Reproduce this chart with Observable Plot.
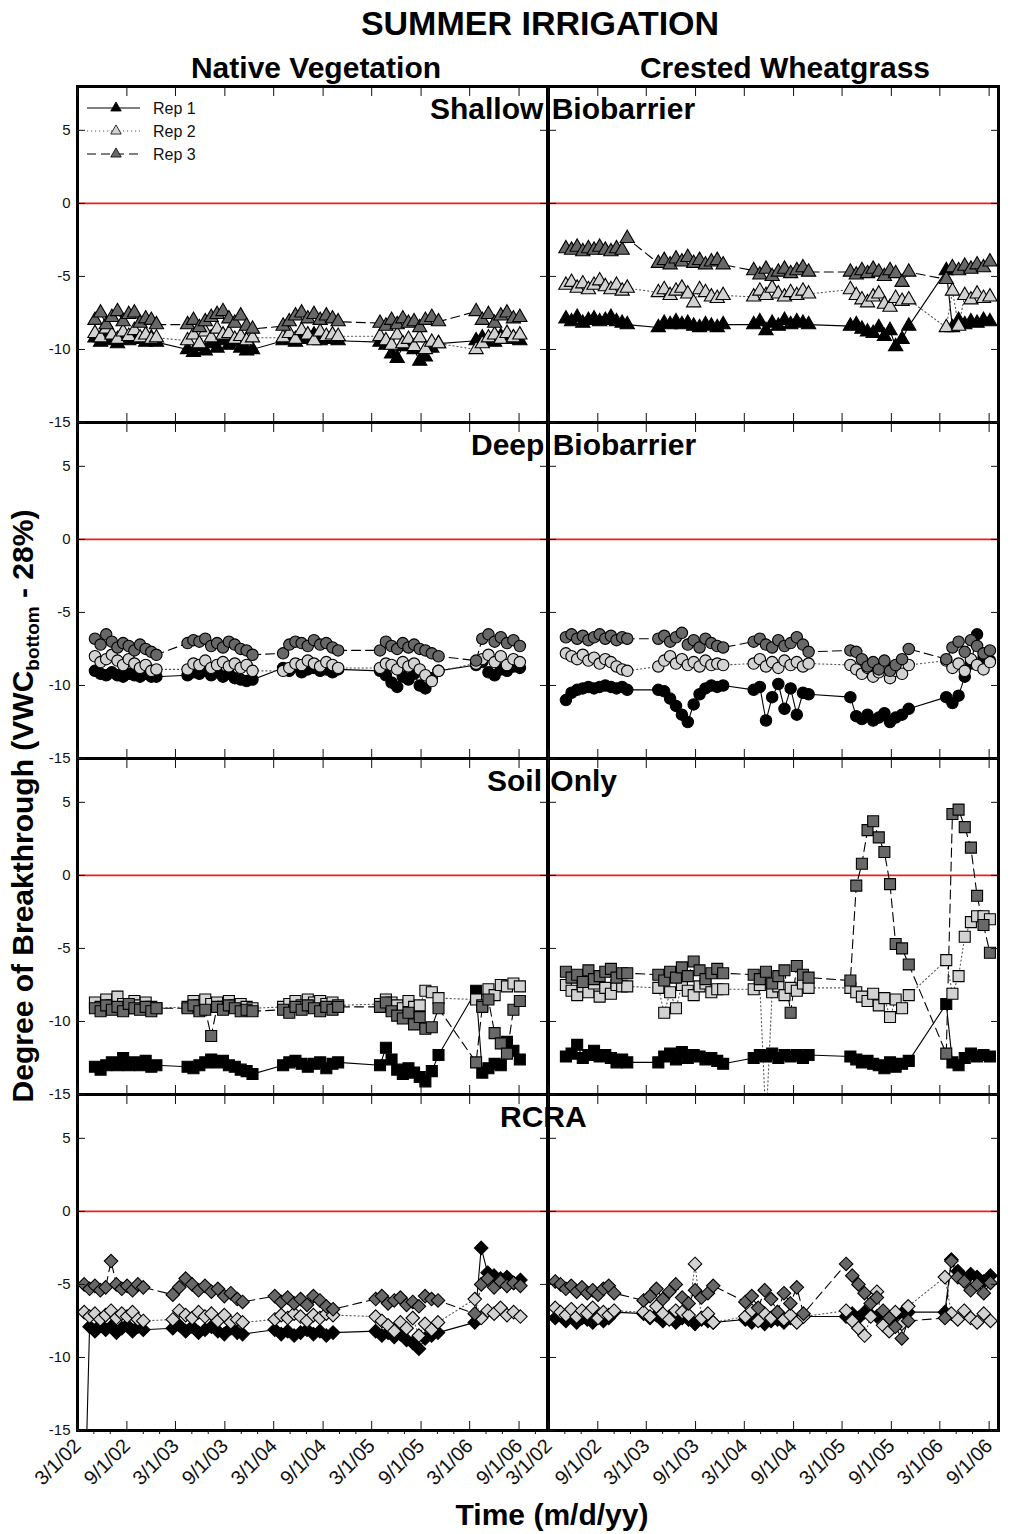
<!DOCTYPE html>
<html>
<head>
<meta charset="utf-8">
<script src="https://cdn.jsdelivr.net/npm/d3@7"></script>
<script src="https://cdn.jsdelivr.net/npm/@observablehq/plot@0.6"></script>
<style>
  body { margin: 0; background: #fff; }
  #fig { position: relative; width: 1010px; height: 1534px; background: #fff; overflow: hidden; }
  #fig > svg { position: absolute; }
</style>
</head>
<body>
<div id="fig"></div>
<script>
// Facet layout
const rows = ["Shallow Biobarrier", "Deep Biobarrier", "Soil Only", "RCRA"];
const columns = ["Native Vegetation", "Crested Wheatgrass"];
const reps = ["Rep 1", "Rep 2", "Rep 3"];

// Axis ticks
const yTicks = [5, 0, -5, -10, -15];
const tickDates = ["2002-03-01", "2002-09-01", "2003-03-01", "2003-09-01", "2004-03-01",
  "2004-09-01", "2005-03-01", "2005-09-01", "2006-03-01", "2006-09-01"];
const minorDates = ["2002-05-01", "2002-07-01", "2002-11-01", "2003-01-01", "2003-05-01",
  "2003-07-01", "2003-11-01", "2004-01-01", "2004-05-01", "2004-07-01", "2004-11-01",
  "2005-01-01", "2005-05-01", "2005-07-01", "2005-11-01", "2006-01-01", "2006-05-01",
  "2006-07-01", "2006-11-01"];

// Sampling dates, five irrigation seasons (12, 12, 10, 11, 8 readings)
const datesA = [
  "2002-05-05", "2002-05-26", "2002-06-16", "2002-07-07", "2002-07-28", "2002-08-18", "2002-09-08", "2002-09-29", "2002-10-20", "2002-11-10", "2002-12-01", "2002-12-20",
  "2003-04-15", "2003-05-07", "2003-05-29", "2003-06-20", "2003-07-12", "2003-08-03", "2003-08-25", "2003-09-16", "2003-10-08", "2003-10-30", "2003-11-21", "2003-12-13",
  "2004-04-05", "2004-04-28", "2004-05-21", "2004-06-13", "2004-07-06", "2004-07-29", "2004-08-21", "2004-09-13", "2004-10-06", "2004-10-27",
  "2005-04-01", "2005-04-23", "2005-05-14", "2005-06-04", "2005-06-25", "2005-07-16", "2005-08-06", "2005-08-27", "2005-09-17", "2005-10-11", "2005-11-05",
  "2006-03-25", "2006-04-17", "2006-05-10", "2006-06-02", "2006-06-25", "2006-07-18", "2006-08-11", "2006-09-04"];
// RCRA cells were read on a slightly earlier schedule
const datesB = [
  "2002-03-26", "2002-04-15", "2002-05-05", "2002-05-25", "2002-06-14", "2002-07-04", "2002-07-24", "2002-08-13", "2002-09-02", "2002-09-22", "2002-10-12", "2002-11-01",
  "2003-02-19", "2003-03-15", "2003-04-08", "2003-05-02", "2003-05-26", "2003-06-19", "2003-07-13", "2003-08-06", "2003-08-30", "2003-09-23", "2003-10-17", "2003-11-06",
  "2004-03-05", "2004-03-29", "2004-04-22", "2004-05-16", "2004-06-09", "2004-07-03", "2004-07-27", "2004-08-20", "2004-09-13", "2004-10-08",
  "2005-03-16", "2005-04-08", "2005-05-01", "2005-05-24", "2005-06-16", "2005-07-09", "2005-08-01", "2005-08-24", "2005-09-16", "2005-10-10", "2005-11-03",
  "2006-03-20", "2006-04-13", "2006-05-07", "2006-05-31", "2006-06-24", "2006-07-18", "2006-08-12", "2006-09-06"];

// Degree of breakthrough (VWC bottom - 28%), one array per cell and replicate
const shallowNativeRep1 = [
  -9.2, -9.5, -9.1, -9.4, -9.6, -9.2, -9.4, -9.1, -9.3, -9.5, -9.2, -9.5,
  -10.0, -10.2, -9.8, -10.1, -9.6, -9.9, -9.4, -9.7, -9.5, -9.9, -10.1, -10.0,
  -9.4, -9.2, -9.5, -9.1, -9.3, -9.0, -9.4, -9.2, -9.3, -9.4,
  -9.5, -9.7, -10.3, -10.6, -9.8, -9.5, -10.0, -10.8, -10.5, -9.9, -9.6,
  -9.4, -9.2, -9.3, -9.5, -9.1, -9.3, -9.2, -9.4];
const shallowNativeRep2 = [
  -8.9, -9.2, -8.6, -9.0, -9.3, -8.8, -9.1, -8.7, -9.2, -9.0, -9.3, -9.2,
  -9.4, -9.0, -9.6, -8.8, -9.2, -8.6, -9.0, -8.9, -9.3, -9.1, -9.4, -9.2,
  -9.2, -8.9, -9.3, -8.7, -9.0, -9.4, -8.8, -9.1, -9.0, -9.1,
  -9.1, -9.4, -9.7, -9.0, -9.6, -9.3, -9.8, -9.2, -10.0, -9.5, -9.6,
  -10.0, -9.6, -9.2, -9.0, -9.3, -8.9, -9.2, -9.0];
const shallowNativeRep3 = [
  -8.0, -7.5, -8.3, -7.8, -7.4, -8.1, -7.6, -7.5, -8.2, -7.9, -8.0, -8.3,
  -8.3, -8.0, -8.5, -8.1, -7.8, -7.6, -7.4, -7.9, -8.2, -7.7, -8.4, -8.6,
  -8.4, -8.1, -7.7, -7.5, -7.9, -7.6, -8.0, -7.7, -7.9, -8.1,
  -8.2, -8.4, -8.0, -8.3, -7.9, -8.2, -8.1, -8.5, -8.0, -7.8, -8.1,
  -7.4, -8.0, -7.6, -8.2, -7.7, -7.5, -7.9, -7.8];

const shallowCrestedRep1 = [
  -7.9, -8.1, -7.8, -8.2, -8.0, -7.9, -8.1, -8.0, -7.8, -8.1, -8.2, -8.3,
  -8.5, -8.2, -8.3, -8.1, -8.3, -8.2, -8.4, -8.5, -8.3, -8.4, -8.5, -8.3,
  -8.3, -8.1, -8.7, -8.2, -8.4, -8.0, -8.3, -8.1, -8.2, -8.3,
  -8.4, -8.3, -8.6, -8.8, -8.9, -8.5, -9.1, -8.7, -9.8, -9.3, -8.4,
  -4.6, -8.5, -8.0, -8.3, -8.1, -8.2, -8.0, -8.1];
const shallowCrestedRep2 = [
  -5.6, -5.4, -5.8, -5.5, -5.9, -5.6, -5.3, -5.7, -5.9, -5.6, -6.0, -5.8,
  -6.1, -5.9, -6.3, -6.0, -5.8, -6.2, -6.8, -5.9, -6.1, -6.4, -6.5, -6.3,
  -6.4, -6.0, -6.3, -5.8, -6.2, -6.4, -6.1, -6.3, -6.0, -6.2,
  -5.9, -6.3, -6.6, -6.8, -6.4, -6.2, -6.9, -7.1, -6.5, -6.7, -6.6,
  -8.5, -6.0, -8.4, -6.3, -6.6, -6.2, -6.5, -6.4];
const shallowCrestedRep3 = [
  -3.1, -3.2, -3.0, -3.3, -3.1, -3.2, -3.0, -3.2, -3.3, -3.1, -3.2, -2.4,
  -4.1, -3.9, -4.2, -3.8, -4.0, -3.7, -4.1, -3.9, -4.2, -4.0, -3.9, -4.2,
  -4.6, -4.9, -4.5, -5.0, -4.7, -4.5, -4.8, -4.6, -4.4, -4.7,
  -4.7, -4.9, -4.6, -4.8, -4.5, -4.7, -5.0, -4.6, -4.8, -5.4, -4.7,
  -5.2, -4.4, -4.6, -4.3, -4.5, -4.2, -4.4, -4.0];

const deepNativeRep1 = [
  -9.0, -9.2, -9.3, -9.1, -9.3, -9.4, -9.2, -9.3, -9.4, -9.2, -9.4, -9.4,
  -9.3, -9.1, -9.2, -9.0, -9.3, -9.1, -9.4, -9.2, -9.5, -9.6, -9.7, -9.6,
  -8.8, -9.0, -8.7, -9.1, -8.9, -8.8, -9.0, -8.9, -9.1, -8.9,
  -9.0, -9.3, -9.8, -10.1, -9.4, -9.6, -9.2, -10.0, -10.2, -9.5, -9.0,
  -8.6, -8.4, -9.1, -9.3, -8.9, -9.0, -8.7, -8.8];
const deepNativeRep2 = [
  -8.0, -8.4, -8.2, -7.9, -8.3, -8.6, -8.2, -8.5, -8.8, -8.6, -9.0, -8.9,
  -8.9, -8.5, -8.6, -8.3, -8.8, -8.6, -8.4, -8.7, -8.5, -8.8, -8.6, -9.0,
  -9.0, -8.8, -8.5, -8.6, -8.3, -8.5, -8.7, -8.4, -8.6, -8.8,
  -8.8, -8.5, -8.6, -8.9, -8.4, -8.7, -8.5, -8.9, -9.3, -9.7, -9.0,
  -8.5, -8.2, -7.9, -8.4, -8.0, -8.6, -8.2, -8.4];
const deepNativeRep3 = [
  -6.8, -7.2, -6.5, -7.0, -7.4, -7.1, -7.3, -7.6, -7.2, -7.5, -7.7, -7.9,
  -7.1, -6.9, -7.0, -6.8, -7.3, -7.1, -7.4, -7.0, -7.2, -7.5, -7.6, -7.9,
  -7.8, -7.2, -7.0, -7.1, -7.3, -6.9, -7.2, -7.1, -7.4, -7.6,
  -7.6, -7.0, -7.3, -7.5, -7.1, -7.4, -7.2, -7.5, -7.6, -7.8, -8.0,
  -8.3, -6.8, -6.5, -7.0, -6.7, -7.1, -6.9, -7.3];

const deepCrestedRep1 = [
  -11.0, -10.5, -10.3, -10.2, -10.1, -10.2, -10.1, -10.0, -10.1, -10.2, -10.1, -10.3,
  -10.3, -10.4, -10.9, -11.4, -12.0, -12.5, -11.3, -10.6, -10.2, -10.0, -10.1, -10.0,
  -10.3, -10.1, -12.4, -10.8, -9.9, -11.6, -10.2, -12.0, -10.5, -10.6,
  -10.8, -12.1, -12.3, -12.0, -12.4, -12.2, -11.9, -12.5, -12.2, -12.0, -11.6,
  -10.8, -11.2, -10.7, -9.4, -8.5, -6.5, -8.1, -8.3];
const deepCrestedRep2 = [
  -7.8, -8.0, -8.2, -7.9, -8.3, -8.1, -8.5, -8.2, -8.4, -8.7, -8.9, -9.0,
  -8.7, -8.3, -8.0, -8.5, -8.2, -8.6, -8.4, -8.7, -8.3, -8.6, -8.5, -8.6,
  -8.5, -8.2, -8.7, -8.4, -8.8, -8.3, -8.6, -8.4, -8.7, -8.5,
  -8.6, -8.9, -9.2, -8.8, -9.4, -9.1, -8.7, -9.5, -9.0, -9.2, -8.6,
  -8.3, -8.8, -8.5, -9.0, -8.2, -8.6, -8.9, -8.4];
const deepCrestedRep3 = [
  -6.7, -6.5, -6.8, -6.6, -6.9, -6.7, -6.5, -6.8, -6.6, -6.9, -6.7, -6.8,
  -6.8, -6.6, -7.0, -6.7, -6.4, -7.2, -6.9, -7.4, -6.8, -7.1, -7.3, -7.4,
  -7.0, -6.8, -7.2, -7.4, -6.9, -7.3, -7.1, -6.7, -7.2, -7.7,
  -7.6, -7.7, -8.2, -8.7, -8.4, -8.9, -8.3, -9.0, -8.6, -8.2, -7.5,
  -8.2, -7.4, -7.0, -7.7, -6.9, -7.3, -7.8, -7.6];

const soilNativeRep1 = [
  -13.1, -13.3, -13.0, -12.8, -13.0, -12.5, -13.0, -12.8, -13.0, -12.7, -13.1, -13.0,
  -13.1, -13.2, -13.0, -12.8, -12.6, -12.8, -12.7, -13.0, -13.1, -13.3, -13.4, -13.6,
  -13.0, -12.8, -12.7, -12.9, -13.1, -12.9, -12.8, -13.2, -12.9, -12.8,
  -13.0, -11.8, -12.6, -13.3, -13.6, -13.2, -13.5, -13.8, -14.1, -13.4, -12.3,
  -7.9, -13.5, -13.2, -12.9, -13.0, -11.4, -12.0, -12.6];
const soilNativeRep2 = [
  -8.7, -9.0, -8.5, -8.9, -8.3, -8.8, -9.1, -8.6, -8.9, -8.7, -9.0, -9.1,
  -9.0, -8.6, -8.9, -8.5, -8.8, -8.7, -9.0, -8.6, -8.9, -8.8, -9.0, -9.1,
  -9.0, -8.8, -8.6, -8.9, -8.5, -8.7, -8.6, -8.8, -8.7, -8.9,
  -8.8, -8.5, -8.7, -8.9, -9.1, -8.6, -9.0, -8.9, -7.9, -8.0, -8.4,
  -8.5, -8.9, -7.8, -8.2, -7.5, -7.6, -7.4, -7.6];
const soilNativeRep3 = [
  -9.1, -9.3, -8.9, -9.2, -9.0, -9.3, -8.8, -9.1, -9.2, -9.0, -9.3, -9.1,
  -9.1, -8.9, -9.3, -9.2, -11.0, -9.0, -9.2, -8.9, -9.1, -9.3, -9.2, -9.3,
  -9.2, -9.4, -9.0, -9.2, -8.9, -9.1, -9.3, -9.0, -9.2, -9.0,
  -9.0, -8.7, -9.3, -9.6, -9.8, -9.4, -10.2, -9.7, -10.5, -10.4, -9.1,
  -12.8, -9.0, -8.5, -10.8, -11.5, -12.2, -9.2, -8.6];

const soilCrestedRep1 = [
  -12.4, -12.2, -11.6, -12.5, -12.3, -12.0, -12.4, -12.3, -12.5, -12.8, -12.6, -12.8,
  -12.8, -12.4, -12.2, -12.6, -12.1, -12.5, -12.3, -12.4, -12.6, -12.5, -12.7, -12.9,
  -12.5, -12.3, -12.4, -12.2, -12.5, -12.3, -12.4, -12.3, -12.5, -12.3,
  -12.4, -12.6, -12.8, -12.7, -12.9, -13.0, -13.2, -12.8, -13.1, -12.9, -12.7,
  -8.8, -12.8, -13.0, -12.5, -12.2, -12.4, -12.3, -12.4];
const soilCrestedRep2 = [
  -7.5, -7.9, -8.2, -7.6, -8.0, -7.4, -8.3, -7.7, -8.1, -7.5, -7.6, -7.6,
  -7.7, -9.4, -8.0, -9.1, -7.5, -7.9, -8.2, -7.6, -7.4, -8.0, -7.8, -7.8,
  -7.8, -7.5, -17.0, -8.0, -7.6, -8.2, -7.7, -7.9, -7.4, -7.7,
  -7.7, -8.0, -8.3, -8.6, -8.1, -8.9, -8.4, -9.7, -8.5, -9.1, -8.2,
  -5.8, -8.1, -6.9, -4.2, -3.2, -2.8, -2.8, -3.0];
const soilCrestedRep3 = [
  -6.6, -7.0, -6.8, -7.3, -6.5, -7.1, -6.9, -6.6, -6.4, -7.0, -6.7, -6.7,
  -6.8, -7.2, -6.6, -7.0, -6.3, -6.9, -5.9, -6.5, -7.1, -6.7, -6.4, -6.7,
  -6.8, -7.1, -6.6, -7.4, -6.9, -6.5, -9.4, -6.2, -6.8, -7.0,
  -7.2, -0.7, 0.8, 3.1, 3.7, 2.6, 1.6, -0.6, -4.7, -5.0, -6.1,
  -12.2, 4.2, 4.5, 3.3, 1.9, -1.4, -3.4, -5.3];

const rcraNativeRep1 = [
  -22.0, -7.9, -8.2, -7.8, -8.1, -7.9, -8.3, -8.0, -7.8, -8.2, -7.9, -8.1,
  -8.0, -7.8, -8.2, -7.9, -8.3, -8.1, -7.9, -8.2, -8.4, -8.0, -8.3, -8.4,
  -8.1, -8.4, -8.2, -8.5, -8.3, -8.1, -8.4, -8.2, -8.5, -8.3,
  -8.2, -8.5, -8.3, -8.6, -8.4, -8.8, -9.0, -9.4, -8.7, -8.5, -8.3,
  -7.6, -2.5, -4.2, -4.4, -4.6, -4.5, -4.9, -4.7];
const rcraNativeRep2 = [
  -6.9, -7.2, -7.0, -7.4, -7.1, -6.8, -7.3, -7.0, -7.2, -6.9, -7.4, -7.5,
  -7.4, -6.8, -7.1, -7.3, -6.9, -7.2, -7.0, -7.5, -7.1, -7.6, -7.4, -7.6,
  -7.4, -7.1, -7.3, -7.0, -7.2, -7.5, -7.1, -7.3, -7.0, -7.1,
  -7.2, -7.5, -7.8, -8.2, -7.6, -8.0, -7.3, -8.5, -7.7, -8.1, -7.6,
  -6.0, -7.3, -6.8, -7.0, -6.6, -7.1, -6.9, -7.2];
const rcraNativeRep3 = [
  -5.0, -5.3, -5.1, -5.4, -5.2, -3.4, -5.0, -5.3, -5.1, -5.4, -5.0, -5.2,
  -5.7, -5.2, -4.6, -5.0, -5.4, -5.1, -5.5, -5.3, -5.8, -5.6, -6.0, -6.2,
  -5.8, -6.2, -5.9, -6.3, -6.0, -6.4, -5.8, -6.1, -6.5, -6.7,
  -6.0, -5.8, -6.3, -6.1, -5.9, -6.4, -6.2, -6.5, -5.8, -6.0, -6.1,
  -7.0, -5.0, -4.6, -5.2, -4.8, -5.1, -4.9, -5.1];

const rcraCrestedRep1 = [
  -7.3, -7.1, -7.5, -7.2, -7.6, -7.3, -7.4, -7.6, -7.2, -7.5, -7.3, -6.9,
  -7.0, -7.3, -7.1, -7.5, -7.2, -7.6, -7.3, -7.4, -7.7, -7.4, -7.5, -7.6,
  -7.4, -7.6, -7.3, -7.7, -7.5, -7.4, -7.6, -7.3, -7.5, -7.2,
  -7.2, -7.0, -7.3, -6.9, -7.1, -7.2, -7.0, -7.3, -7.1, -7.0, -6.9,
  -6.9, -3.3, -4.1, -4.6, -4.3, -4.5, -4.8, -4.4];
const rcraCrestedRep2 = [
  -6.6, -6.9, -7.1, -6.7, -7.2, -6.8, -7.0, -6.6, -7.3, -6.9, -7.1, -6.8,
  -6.9, -7.2, -6.5, -7.0, -7.4, -6.8, -6.9, -7.1, -3.6, -7.3, -7.0, -7.6,
  -7.2, -6.8, -7.5, -7.0, -7.3, -6.9, -7.4, -7.1, -7.6, -7.2,
  -6.8, -7.5, -8.0, -8.5, -7.2, -5.5, -7.8, -8.2, -6.9, -7.7, -6.5,
  -4.5, -7.0, -7.4, -6.8, -7.3, -7.6, -7.0, -7.5];
const rcraCrestedRep3 = [
  -4.8, -5.0, -5.3, -5.1, -5.5, -5.2, -5.6, -5.4, -5.7, -5.3, -5.1, -5.6,
  -6.1, -5.8, -5.3, -6.0, -5.5, -5.0, -5.9, -6.3, -5.4, -5.9, -5.6, -5.1,
  -6.2, -5.8, -6.6, -5.4, -6.0, -6.9, -5.6, -6.3, -5.2, -7.0,
  -3.6, -4.4, -5.0, -5.6, -6.3, -5.9, -6.8, -7.3, -7.9, -8.7, -7.5,
  -7.3, -3.4, -4.5, -4.8, -5.4, -5.0, -5.6, -4.9];

// Long table: one record per reading
const cells = [
  [rows[0], columns[0], datesA, [shallowNativeRep1, shallowNativeRep2, shallowNativeRep3]],
  [rows[0], columns[1], datesA, [shallowCrestedRep1, shallowCrestedRep2, shallowCrestedRep3]],
  [rows[1], columns[0], datesA, [deepNativeRep1, deepNativeRep2, deepNativeRep3]],
  [rows[1], columns[1], datesA, [deepCrestedRep1, deepCrestedRep2, deepCrestedRep3]],
  [rows[2], columns[0], datesA, [soilNativeRep1, soilNativeRep2, soilNativeRep3]],
  [rows[2], columns[1], datesA, [soilCrestedRep1, soilCrestedRep2, soilCrestedRep3]],
  [rows[3], columns[0], datesB, [rcraNativeRep1, rcraNativeRep2, rcraNativeRep3]],
  [rows[3], columns[1], datesB, [rcraCrestedRep1, rcraCrestedRep2, rcraCrestedRep3]]
];
const table = cells.flatMap(([row, col, dates, series]) =>
  series.flatMap((values, i) => values.map((v, j) => ({row, col, rep: reps[i], date: new Date(dates[j]), v}))));

const FONT = "'Liberation Sans', Arial, Helvetica, sans-serif";
const fmt = d3.utcFormat("%-m/%-d/%y");
const repFill = ["#000000", "#d2d2d2", "#686868"];
const repLines = [
  {rep: "Rep 1", stroke: "#000", dash: null},
  {rep: "Rep 2", stroke: "#555", dash: "1.2,2.8"},
  {rep: "Rep 3", stroke: "#000", dash: "9,5"}
];
const rowSymbols = ["triangle", "circle", "square", "diamond2"];
const rowRadius = [5.3, 5.7, 6.2, 6.1];
const blank = () => "";

function columnPlot(col, {width, marginLeft, marginRight, start, end, yLabels}) {
  const data = table.filter(d => d.col === col);
  const xt = tickDates.map(d => new Date(d)).filter(d => d <= end);
  const xm = minorDates.map(d => new Date(d)).filter(d => d <= end);
  const marks = [
    Plot.ruleY([0], {stroke: "#e8231f", strokeWidth: 1.6}),
    ...repLines.map(s => Plot.line(data, {
      filter: d => d.rep === s.rep, x: "date", y: "v", fy: "row",
      stroke: s.stroke, strokeWidth: 1.1, strokeDasharray: s.dash, clip: true
    })),
    ...rows.map((r, i) => Plot.dot(data, {
      filter: d => d.row === r, x: "date", y: "v", fy: "row",
      symbol: rowSymbols[i], r: rowRadius[i], fill: "rep",
      stroke: "#000", strokeWidth: 1.1, clip: true
    })),
    Plot.frame({stroke: "#000", strokeWidth: 3}),
    Plot.axisX(xt, {anchor: "top", tickSize: -9, tickFormat: blank, facetAnchor: null}),
    Plot.axisX(xt, {anchor: "bottom", tickSize: -9, tickFormat: blank, facetAnchor: null}),
    Plot.axisX(xm, {anchor: "bottom", tickSize: 4, tickFormat: blank}),
    Plot.axisX(xt, {anchor: "bottom", tickSize: 0, tickPadding: 12, tickRotate: -45,
      tickFormat: fmt, fontSize: 20}),
    Plot.axisY(yTicks, {anchor: "left", tickSize: -8, tickFormat: blank, facetAnchor: null}),
    Plot.axisY(yTicks, {anchor: "right", tickSize: -8, tickFormat: blank, facetAnchor: null})
  ];
  if (yLabels) {
    marks.push(Plot.axisY(yTicks, {anchor: "left", tickSize: 0, tickPadding: 7,
      tickFormat: d => String(d), fontSize: 15}));
  }
  return Plot.plot({
    width, height: 4 + 4 * 336 + 80,
    marginTop: 4, marginBottom: 80, marginLeft, marginRight,
    x: {type: "utc", domain: [start, end], label: null},
    y: {domain: [-15, 8], label: null},
    fy: {domain: rows, padding: 0, axis: null, label: null},
    color: {domain: reps, range: repFill},
    style: {fontFamily: FONT, fontSize: "15px", color: "#111", background: "transparent", overflow: "visible"},
    marks
  });
}

const fig = document.getElementById("fig");
const left = columnPlot(columns[0], {
  width: 548, marginLeft: 77, marginRight: 1,
  start: new Date("2002-03-01"), end: new Date("2006-12-16"), yLabels: true
});
const right = columnPlot(columns[1], {
  width: 462, marginLeft: 0, marginRight: 12,
  start: new Date("2002-03-01"), end: new Date("2006-10-06"), yLabels: false
});
left.style.left = "0px"; left.style.top = "82px";
right.style.left = "548px"; right.style.top = "82px";
fig.appendChild(left);
fig.appendChild(right);

// Titles, facet labels, axis titles and legend
const svg = d3.select(fig).append("svg")
  .attr("width", 1010).attr("height", 1534)
  .style("left", "0px").style("top", "0px").style("pointer-events", "none")
  .attr("font-family", FONT);

svg.append("text").attr("x", 540).attr("y", 35).attr("text-anchor", "middle")
  .attr("font-size", 34).attr("font-weight", "bold").text("SUMMER IRRIGATION");
svg.append("text").attr("x", 316).attr("y", 78).attr("text-anchor", "middle")
  .attr("font-size", 30).attr("font-weight", "bold").text(columns[0]);
svg.append("text").attr("x", 785).attr("y", 78).attr("text-anchor", "middle")
  .attr("font-size", 30).attr("font-weight", "bold").text(columns[1]);

const rowLabelX = [430, 471, 487, 500];
rows.forEach((r, i) => {
  svg.append("text").attr("x", rowLabelX[i]).attr("y", 119 + 336 * i)
    .attr("font-size", 30).attr("font-weight", "bold").text(r);
});

svg.append("text").attr("x", 552).attr("y", 1525).attr("text-anchor", "middle")
  .attr("font-size", 30).attr("font-weight", "bold").text("Time (m/d/yy)");

const ylab = svg.append("text").attr("transform", "translate(33,806) rotate(-90)")
  .attr("text-anchor", "middle").attr("font-size", 30).attr("font-weight", "bold");
ylab.append("tspan").text("Degree of Breakthrough (VWC");
ylab.append("tspan").attr("font-size", 19).attr("dy", 6).text("bottom");
ylab.append("tspan").attr("dy", -6).text(" - 28%)");

const legend = svg.append("g");
const tri = d3.symbol(d3.symbolTriangle, 48)();
repLines.forEach((s, i) => {
  const y = 108 + 23 * i;
  legend.append("line").attr("x1", 87).attr("x2", 140).attr("y1", y).attr("y2", y)
    .attr("stroke", s.stroke).attr("stroke-width", 1).attr("stroke-dasharray", s.dash);
  legend.append("path").attr("d", tri).attr("transform", `translate(116,${y})`)
    .attr("fill", repFill[i]).attr("stroke", "#000").attr("stroke-width", 0.8);
  legend.append("text").attr("x", 153).attr("y", y + 6).attr("font-size", 16)
    .attr("fill", "#111").text(s.rep);
});
</script>
</body>
</html>
